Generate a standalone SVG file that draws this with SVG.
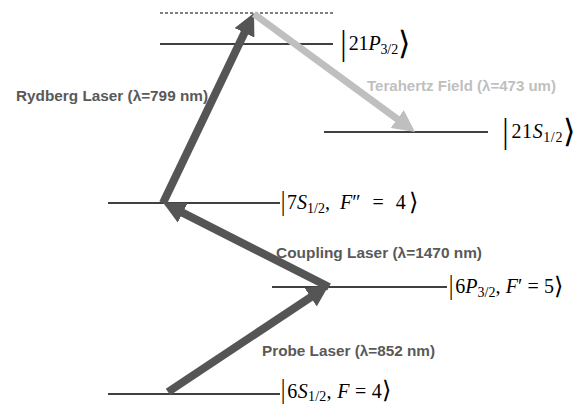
<svg xmlns="http://www.w3.org/2000/svg" width="583" height="405" viewBox="0 0 583 405">
<style>
.lvl{stroke:#000;stroke-width:1.3;fill:none}
.dash{stroke:#000;stroke-width:1;stroke-dasharray:3,2;fill:none}
.dark{stroke:#555;stroke-width:8;fill:none}
.light{stroke:#bfbfbf;stroke-width:7;fill:none}
.lab{font-family:"Liberation Sans","Open Sans",sans-serif;font-weight:bold;font-size:14px;fill:#595959}
.labl{fill:#bfbfbf}
.ket{font-family:"Liberation Serif","DejaVu Serif",serif;font-size:20px;fill:#000}
.it{font-style:italic}
.sub{font-size:14px}
.d{font-family:"DejaVu Sans","Liberation Serif",serif;font-size:24px;font-weight:100;fill:#000}
.D{font-size:32px}
</style>
<defs>
<marker id="ad" markerUnits="userSpaceOnUse" markerWidth="22" markerHeight="22" viewBox="0 0 22 22" refX="7" refY="11" orient="auto"><path d="M0,0 L22,11 L0,22 z" fill="#555"/></marker>
<marker id="al" markerUnits="userSpaceOnUse" markerWidth="22" markerHeight="22" viewBox="0 0 22 22" refX="7" refY="11" orient="auto"><path d="M0,0 L22,11 L0,22 z" fill="#bfbfbf"/></marker>
</defs>
<g id="levels">
<g id="virtual"><line class="dash" x1="160" y1="13" x2="333" y2="13"/></g>
<g id="l21P"><line class="lvl" x1="160" y1="44" x2="333" y2="44"/>
<text class="ket" x="338" y="50" textLength="72" lengthAdjust="spacing"><tspan class="d D" dy="4">|</tspan><tspan dy="-4">21</tspan><tspan class="it">P</tspan><tspan class="sub" dy="4">3/2</tspan><tspan class="d D">⟩</tspan></text></g>
<g id="l21S"><line class="lvl" x1="324" y1="132" x2="488" y2="132"/>
<text class="ket" x="500" y="138" textLength="75" lengthAdjust="spacing"><tspan class="d D" dy="4">|</tspan><tspan dy="-4">21</tspan><tspan class="it">S</tspan><tspan class="sub" dy="4">1/2</tspan><tspan class="d D">⟩</tspan></text></g>
<g id="l7S"><line class="lvl" x1="108" y1="203" x2="280" y2="203"/>
<text class="ket" x="279" y="209"><tspan class="d" dy="1">|</tspan><tspan dy="-1">7</tspan><tspan class="it">S</tspan><tspan class="sub" dy="4">1/2</tspan><tspan dy="-4">,</tspan><tspan class="it" dx="10">F</tspan>″<tspan dx="12">=</tspan><tspan dx="12">4</tspan><tspan class="d" dy="1" dx="3">⟩</tspan></text></g>
<g id="l6P"><line class="lvl" x1="272" y1="287" x2="447" y2="287"/>
<text class="ket" x="447" y="293" textLength="116" lengthAdjust="spacing"><tspan class="d" dy="1">|</tspan><tspan dy="-1">6</tspan><tspan class="it">P</tspan><tspan class="sub" dy="4">3/2</tspan><tspan dy="-4">, </tspan><tspan class="it">F</tspan>′ = 5<tspan class="d" dy="1">⟩</tspan></text></g>
<g id="l6S"><line class="lvl" x1="108" y1="394" x2="280" y2="394"/>
<text class="ket" x="279" y="398" textLength="112" lengthAdjust="spacing"><tspan class="d">|</tspan>6<tspan class="it">S</tspan><tspan class="sub" dy="3">1/2</tspan><tspan dy="-3">, </tspan><tspan class="it">F</tspan> = 4<tspan class="d">⟩</tspan></text></g>
</g>
<g id="connectors">
<line class="dark" x1="168" y1="392" x2="316.5" y2="293.4" marker-end="url(#ad)"/>
<line class="dark" x1="329" y1="287" x2="176.5" y2="209.6" marker-end="url(#ad)"/>
<line class="dark" x1="163" y1="203" x2="247.5" y2="26.5" marker-end="url(#ad)"/>
<line class="light" x1="254" y1="14" x2="402.9" y2="123.1" marker-end="url(#al)"/>
</g>
<g id="labels">
<text class="lab" x="16" y="101" textLength="192" lengthAdjust="spacingAndGlyphs">Rydberg Laser (λ=799 nm)</text>
<text class="lab labl" x="367" y="91" textLength="189" lengthAdjust="spacingAndGlyphs">Terahertz Field (λ=473 um)</text>
<text class="lab" x="276" y="258" textLength="206" lengthAdjust="spacingAndGlyphs">Coupling Laser (λ=1470 nm)</text>
<text class="lab" x="262" y="356" textLength="173" lengthAdjust="spacingAndGlyphs">Probe Laser (λ=852 nm)</text>
</g>
</svg>
